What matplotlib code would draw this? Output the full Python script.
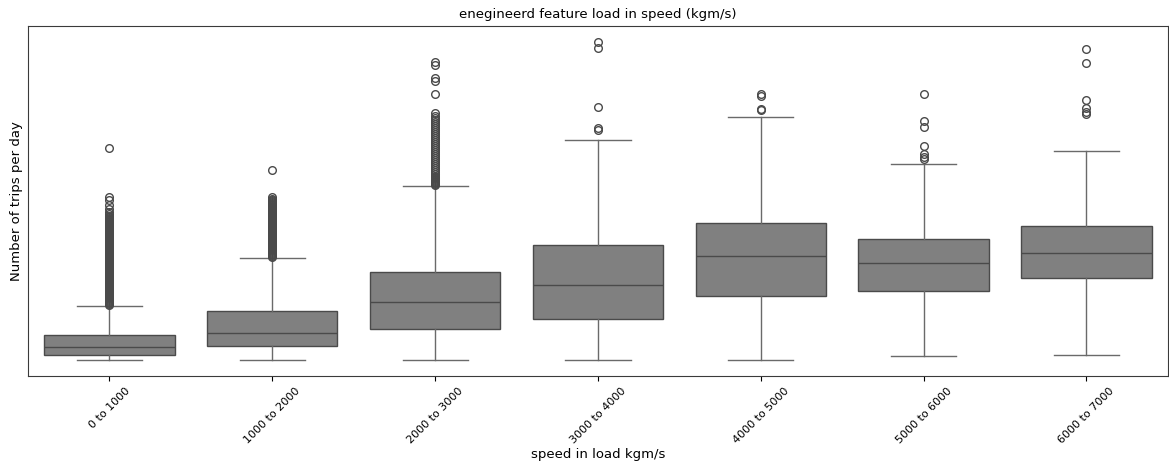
import numpy as np
import matplotlib.pyplot as plt

# categories and box statistics (arbitrary y units, no y ticks in the original)
labels = ["0 to 1000", "1000 to 2000", "2000 to 3000", "3000 to 4000",
          "4000 to 5000", "5000 to 6000", "6000 to 7000"]
whislo = [16, 16, 16, 16, 16, 20, 21]
q1 = [21, 30, 47, 57, 80, 85, 98]
med = [29, 43, 74, 91, 120, 113, 123]
q3 = [41, 65, 104, 131, 153, 137, 150]
whishi = [70, 118, 190, 236, 259, 212, 225]

fliers_0 = [71, 72, 73, 74, 75, 76, 77, 78, 79, 80, 81, 82, 83, 84, 85, 86,
            87, 88, 89, 90, 91, 92, 93, 94, 95, 96, 97, 98, 99, 100, 101, 102,
            103, 104, 105, 106, 107, 108, 109, 110, 111, 112, 113, 114, 115,
            116, 117, 118, 119, 120, 121, 122, 123, 124, 125, 126, 127, 128,
            129, 130, 131, 132, 133, 134, 135, 136, 137, 138, 139, 140, 141,
            142, 143, 144, 145, 146, 147, 148, 149, 150, 151, 152, 153, 154,
            155, 156, 157, 158, 159, 160, 162, 164, 167, 171, 176, 179, 228]
fliers_1 = [119, 120, 121, 122, 123, 124, 125, 126, 127, 128, 129, 130, 131,
            132, 133, 134, 135, 136, 137, 138, 139, 140, 141, 142, 143, 144,
            145, 146, 147, 148, 149, 150, 151, 152, 153, 154, 155, 156, 157,
            158, 159, 160, 161, 162, 163, 164, 165, 166, 167, 168, 169, 170,
            171, 172, 173, 174, 175, 176, 177, 179, 206]
fliers_2 = [191, 192, 193, 194, 195, 196, 197, 198, 199, 200, 202, 204, 206,
            208, 210, 212, 214, 216, 218, 220, 222, 224, 226, 228, 230, 232,
            234, 236, 238, 240, 242, 244, 246, 248, 250, 252, 254, 256, 258,
            260, 263, 282, 295, 298, 311, 314]
fliers_3 = [246, 248, 269, 328, 334]
fliers_4 = [266, 267, 280, 282]
fliers_5 = [217, 219, 222, 230, 249, 255, 282]
fliers_6 = [262, 264, 268, 276, 313, 327]
fliers = [fliers_0, fliers_1, fliers_2, fliers_3, fliers_4, fliers_5, fliers_6]

stats = []
for i in range(len(labels)):
    stats.append(dict(label=labels[i], whislo=whislo[i], q1=q1[i], med=med[i],
                      q3=q3[i], whishi=whishi[i], fliers=fliers[i]))

fig = plt.figure(figsize=(11.69, 4.63), dpi=100)
ax = fig.add_axes([0.024, 0.188, 0.975, 0.756])

line_col = "#4a4a4a"
ax.bxp(stats, positions=np.arange(len(labels)), widths=0.8, patch_artist=True,
       boxprops=dict(facecolor="#808080", edgecolor=line_col, linewidth=1.0),
       medianprops=dict(color=line_col, linewidth=1.0),
       whiskerprops=dict(color="#6a6a6a", linewidth=1.0),
       capprops=dict(color="#6a6a6a", linewidth=1.0),
       flierprops=dict(marker="o", markerfacecolor="none",
                       markeredgecolor=line_col, markersize=5.5,
                       markeredgewidth=1.0))

ax.set_xlim(-0.5, 6.5)
ax.set_ylim(0, 350)
ax.set_yticks([])
ax.set_xticks(np.arange(len(labels)))
ax.set_xticklabels(labels, rotation=45, fontsize=8)
for s in ax.spines.values():
    s.set_color("#3a3a3a")

ax.set_title("enegineerd feature load in speed (kgm/s)", fontsize=9.5)
ax.set_xlabel("speed in load kgm/s", fontsize=9.5, labelpad=2)
ax.set_ylabel("Number of trips per day", fontsize=9.5)

fig.savefig("out.png", dpi=100)
